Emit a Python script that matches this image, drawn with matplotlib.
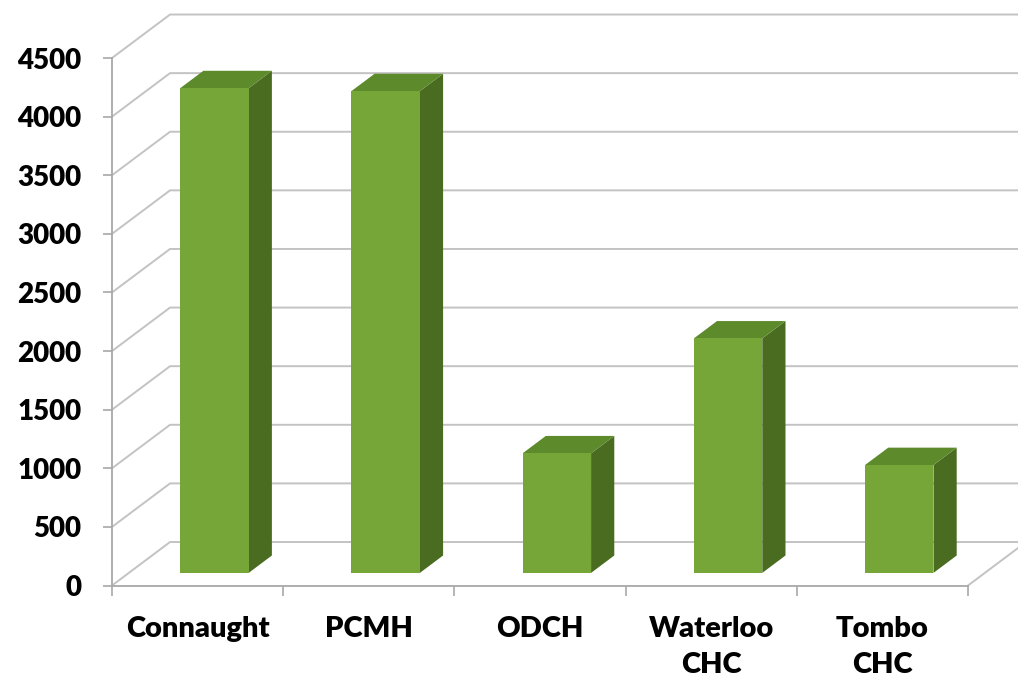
import numpy as np
import matplotlib
matplotlib.use("Agg")
import matplotlib.pyplot as plt
from matplotlib.patches import Polygon

#%% data
categories = ["Connaught", "PCMH", "ODCH", "Waterloo\nCHC", "Tombo\nCHC"]
values = [4135, 4110, 1020, 2000, 920]
y_ticks = [0, 500, 1000, 1500, 2000, 2500, 3000, 3500, 4000, 4500]

#%% style
plt.rcParams['font.family'] = ['Lato', 'DejaVu Sans']
grid_col = '#C3C3C3'
axis_col = '#A8A8A8'
front_col = '#76A538'
top_col = '#5D8A2B'
side_col = '#4A6C21'

# oblique depth of the floor / walls, in data units
DX = 0.339
DY = 371
f0, f1 = 0.29, 0.69   # bar front/back depth fractions
bw = 0.40             # bar width in category units

fig = plt.figure(figsize=(10.18, 6.78), dpi=100)
ax = fig.add_axes([0, 0, 1, 1])
ax.set_xlim(-0.6542, 5.292)
ax.set_ylim(-789.1, 4994.9)
ax.set_facecolor('white')

#%% walls and floor
for v in y_ticks:
    ax.plot([0, DX, 6.0], [v, v + DY, v + DY], color=grid_col, lw=1.4, zorder=1,
            solid_capstyle='butt')
# right edge of floor
ax.plot([5, 5 + DX], [0, DY], color=grid_col, lw=1.4, zorder=1)

#%% bars
for i, val in enumerate(values):
    x0 = i + 0.5 - bw / 2 + f0 * DX
    x1 = x0 + bw
    d = (f1 - f0) * DX
    dy = (f1 - f0) * DY
    yb = f0 * DY
    yt = yb + val
    ax.add_patch(Polygon([(x1, yb), (x1, yt), (x1 + d, yt + dy), (x1 + d, yb + dy)],
                         closed=True, facecolor=side_col, edgecolor='none', zorder=3))
    ax.add_patch(Polygon([(x0, yt), (x1, yt), (x1 + d, yt + dy), (x0 + d, yt + dy)],
                         closed=True, facecolor=top_col, edgecolor='none', zorder=3))
    ax.add_patch(Polygon([(x0, yb), (x1, yb), (x1, yt), (x0, yt)],
                         closed=True, facecolor=front_col, edgecolor='none', zorder=4))

#%% axes
for s in ['top', 'right']:
    ax.spines[s].set_visible(False)
ax.spines['left'].set_position(('data', 0))
ax.spines['left'].set_bounds(0, 4500)
ax.spines['bottom'].set_position(('data', 0))
ax.spines['bottom'].set_bounds(0, 5)
for s in ['left', 'bottom']:
    ax.spines[s].set_color(axis_col)
    ax.spines[s].set_linewidth(1.3)

ax.set_yticks(y_ticks)
ax.set_yticklabels([str(t) for t in y_ticks], fontsize=20, fontweight='heavy')
ax.tick_params(axis='y', length=6.5, width=1.2, color=axis_col, pad=15.5)

ax.set_xticks(np.arange(0, 6))
ax.set_xticklabels([])
ax.set_xticks(np.arange(0.5, 5), minor=True)
ax.set_xticklabels(categories, minor=True, fontsize=21, fontweight='heavy',
                   linespacing=1.45, va='top')
ax.tick_params(axis='x', which='major', length=7.5, width=1.2, color=axis_col)
ax.tick_params(axis='x', which='minor', length=0, pad=22)

fig.savefig("out.png", dpi=100, facecolor='white')
